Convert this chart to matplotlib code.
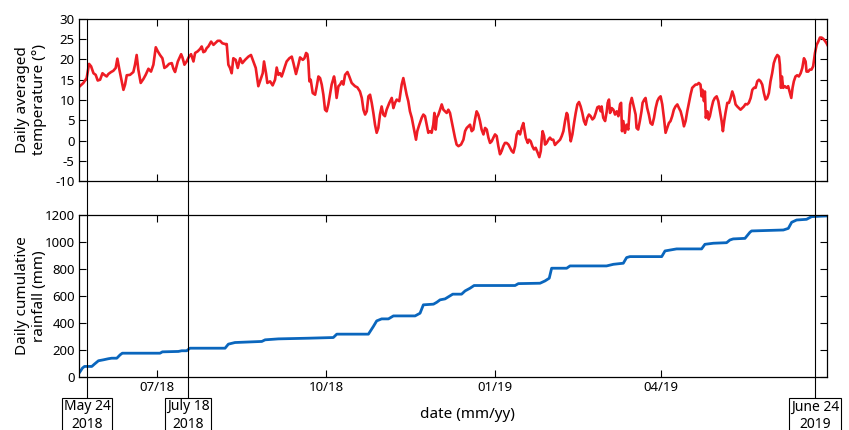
import numpy as np
import pandas as pd
import matplotlib
matplotlib.use('Agg')
import matplotlib.pyplot as plt
import matplotlib.dates as mdates
from matplotlib.lines import Line2D
from matplotlib.transforms import blended_transform_factory

plt.rcParams['font.family'] = ['Noto Sans', 'DejaVu Sans']
plt.rcParams['axes.unicode_minus'] = False

# days counted from 2018-05-20
start_date = '2018-05-20'

temp_day = [0, 1.9, 3.7, 5.0, 6.1, 7.4, 8.6, 9.7, 11.0, 12.3, 13.3, 14.6, 15.5, 17.0, 18.2, 19.5, 20.4,
            21.5, 22.8, 23.7, 24.6, 25.5, 27.3, 29.1, 30.0, 30.9, 31.8, 33.1, 34.6, 35.8, 37.3, 38.7,
            40.0, 41.3, 42.4, 43.6, 44.9, 46.0, 47.3, 48.5, 50.0, 50.9, 51.8, 53.3, 55.1, 55.8, 56.9,
            58.1, 59.4, 60.5, 61.8, 62.7, 64.1, 65.4, 66.3, 67.2, 68.1, 69.0, 69.9, 71.4, 72.7, 73.6,
            75.0, 76.3, 77.5, 79.0, 79.9, 80.8, 81.7, 82.6, 83.5, 84.8, 85.9, 87.2, 88.4, 89.9, 91.7,
            93.1, 94.4, 95.7, 97.1,
            99.5, 100.2, 101.3, 102.0, 103.5, 104.9, 106.2, 107.1, 108.0, 108.9, 109.8, 110.7, 111.6,
            112.5, 114.0, 115.3, 116.2, 117.6, 118.9, 119.8, 121.3, 122.2, 123.1, 123.8, 124.3, 124.9,
            125.6, 126.7, 128.0, 128.9, 129.8, 130.7, 131.6, 132.5, 133.4, 134.3, 135.2, 136.1, 137.0,
            138.3, 138.8, 139.7, 140.7, 141.6, 142.5, 143.4, 144.3, 145.6, 146.6, 147.9, 149.7, 151.0,
            152.4, 153.4, 154.3, 155.2, 156.1, 157.0, 157.9, 158.8, 159.7, 160.6, 161.5, 162.4, 163.3,
            164.2, 165.1, 166.0, 166.9, 168.4, 169.7, 170.6, 171.5, 172.4, 173.8, 175.1, 176.0, 176.9,
            177.8, 178.7, 179.6, 180.6, 181.5, 182.4, 182.9, 183.6, 184.7, 186.0, 186.9, 187.8, 188.7,
            189.6, 190.5, 191.4, 192.3, 192.9, 193.6, 194.2, 195.1, 196.0, 196.9, 197.8,
            198.7, 199.6, 200.5, 201.4, 202.3, 203.2, 204.1, 205.0, 206.0, 207.4, 208.7, 209.6, 210.5,
            211.4, 212.3, 213.2, 214.1, 215.0, 215.9, 216.8, 217.7, 218.6, 219.6, 220.5, 221.4, 222.3,
            223.2, 224.1, 225.0, 225.9, 226.8, 227.7, 228.6, 229.5, 230.4, 231.3, 232.2, 233.2, 234.1,
            235.0, 235.9, 236.8, 237.7, 238.6, 239.5, 240.4, 241.3, 241.9, 242.6, 243.7, 244.4, 245.3,
            246.2, 247.1, 248.0, 249.1, 250.0, 250.8, 251.3, 251.8, 252.6, 253.1, 254.0, 254.9, 255.8,
            256.7, 257.6, 258.5, 259.5, 260.4, 261.3, 262.2, 263.1, 264.0, 264.9, 265.4, 266.2, 267.1,
            268.0, 268.9, 269.8, 270.7, 271.6, 272.5, 273.4, 274.3, 275.2, 276.1, 277.0, 277.9, 278.9,
            279.8, 280.7, 281.6, 282.5, 283.4, 283.9, 284.8, 285.8, 286.7, 287.2, 287.9, 288.5, 289.4,
            290.3, 291.2, 292.1, 293.0, 293.9, 294.5, 295.0, 295.7, 296.6, 297.5, 298.4, 299.4, 300.3,
            302.4, 302.9, 303.8, 304.7, 305.6, 306.2, 307.1, 307.8, 308.7, 309.6, 310.5, 311.5, 312.4,
            313.3, 314.2, 315.1, 316.0, 316.9, 317.8, 318.7, 319.6, 320.5, 321.4, 322.3, 323.2, 324.1,
            325.1, 326.0, 326.9, 327.8, 328.7, 329.6, 330.5, 331.4, 332.3, 333.2, 334.1, 335.0, 335.9,
            336.8, 337.7, 338.3, 338.8, 339.6, 340.1, 340.6, 341.4, 342.1, 342.8, 343.7, 344.6, 345.5,
            346.5, 347.4, 348.3, 349.2, 349.9, 350.6, 351.3, 352.3, 353.2, 354.1, 355.0, 355.9, 356.8,
            357.7, 358.6, 359.5, 360.4, 361.3, 362.2, 363.1, 364.0, 365.0, 365.9, 366.8, 367.7, 368.6,
            369.5, 370.4, 371.3, 372.2, 373.1, 374.0, 374.9, 375.8, 376.7, 377.6, 378.5, 379.5, 380.4,
            380.9, 381.5, 382.0, 382.7, 383.6, 384.5, 385.4, 386.4, 387.1, 387.8, 388.5, 389.4, 390.3,
            391.2, 392.2, 393.1, 394.0, 394.9, 395.4, 396.3, 397.2, 398.1, 399.0, 400.0, 400.9, 401.8,
            402.7, 403.6, 404.5, 405.4, 406.3, 407.2]

temp_c = [13.4, 14.2, 15.4, 18.9, 18.3, 16.6, 16.2, 14.8, 15.0, 16.6, 16.2, 15.8, 16.4, 16.9, 17.2, 17.9, 20.2,
          17.5, 14.6, 12.5, 13.8, 16.1, 16.2, 16.9, 18.7, 21.1, 17.5, 14.2, 15.2, 16.2, 17.7, 17.0,
          18.7, 23.0, 22.0, 21.1, 20.3, 17.9, 18.3, 18.9, 19.1, 17.7, 16.9, 19.5, 21.3, 20.5, 18.7,
          19.5, 20.7, 21.3, 19.5, 21.6, 22.0, 22.6, 23.2, 21.8, 22.0, 22.8, 23.2, 24.4, 23.6, 24.0,
          24.6, 24.6, 24.0, 23.8, 23.8, 18.7, 17.9, 16.6, 20.3, 19.9, 17.9, 20.3, 19.1, 19.9, 20.7,
          21.1, 19.5, 17.9, 13.4,
          16.6, 19.5, 16.6, 14.2, 14.6, 13.6, 15.0, 18.0, 16.2, 16.6, 15.8, 17.0, 18.3,
          19.5, 20.3, 20.7, 19.1, 16.4, 18.7, 20.5, 19.9, 20.3, 21.6, 21.3, 19.5, 14.6,
          15.0, 11.7, 11.3, 13.4, 15.8, 15.4, 13.8, 11.3, 7.6, 7.2, 8.9, 11.3, 13.8,
          15.8, 14.6, 10.5, 13.4, 13.8, 14.6, 13.8, 16.2, 16.9, 15.8, 14.2, 13.4, 13.1,
          12.1, 10.5, 7.6, 6.4, 7.2, 10.9, 11.3, 9.3, 6.8, 3.9, 1.9, 3.1, 6.4,
          8.4, 6.4, 6.0, 7.6, 9.3, 10.5, 8.0, 9.3, 10.1, 9.7, 13.8, 15.4, 13.4,
          11.3, 9.7, 7.2, 5.6, 3.5, 1.5, 0.2, 2.3, 3.9, 5.6, 6.4, 6.0, 3.9,
          1.9, 2.3, 1.9, 3.9, 6.8, 2.7, 5.6, 6.4, 7.6, 8.9, 7.6,
          7.2, 6.8, 7.6, 6.8, 4.8, 2.7, 0.7, -1.0, -1.4, -1.0, 0.2, 2.3, 3.1,
          3.5, 3.9, 2.3, 2.7, 5.2, 7.2, 6.4, 4.8, 2.7, 1.5, 3.1, 2.7, 0.7,
          -0.6, -0.2, 0.7, 1.5, 1.1, -1.4, -3.4, -2.6, -1.4, -0.6, -0.6, -1.0, -1.8,
          -2.6, -3.0, -1.4, 1.5, 2.3, 1.5, 3.1, 4.3, 2.7, 0.7, -0.6, 0.2, -0.2,
          -1.4, -2.2, -1.8, -3.0, -4.1, -2.6, 0.2, 2.3, 1.1, -1.0, -0.6, 0.2, 0.7,
          0.2, 0.2, -1.1, -0.6, -0.2, 0.2, 1.1, 2.3, 4.8, 6.8, 6.4, 3.1, -0.2,
          1.5, 4.3, 6.8, 8.9, 9.5, 8.4, 6.8, 4.8, 3.9, 5.6, 6.4, 6.0, 5.2,
          5.6, 6.8, 8.2, 8.4, 7.2, 8.4, 5.6, 4.8, 7.2, 9.3, 10.1, 6.8, 8.0,
          7.6, 6.4, 7.2, 6.0, 8.9, 9.3, 2.3, 4.8, 1.9, 3.9, 2.7, 8.9, 10.5,
          6.4, 3.1, 2.7, 4.8, 7.2, 9.3, 10.1, 10.5, 8.0, 6.4, 4.3, 3.9, 5.6,
          8.0, 9.7, 10.5, 10.9, 8.9, 5.6, 1.9, 3.1, 4.3, 4.8, 6.0, 7.6, 8.4,
          8.9, 8.0, 7.2, 5.6, 3.5, 4.8, 7.2, 9.3, 11.3, 13.0, 13.4, 13.8, 13.8,
          14.2, 13.8, 10.9, 12.5, 9.7, 12.1, 5.6, 7.2, 5.2, 6.0, 8.0, 9.7, 10.5,
          10.9, 9.7, 7.2, 4.8, 2.3, 4.8, 6.8, 9.3, 9.3, 10.5, 12.1, 10.9, 8.9,
          8.4, 8.0, 7.6, 8.0, 8.4, 9.0, 8.9, 9.3, 10.5, 12.5, 13.0, 13.0, 14.6,
          15.0, 14.6, 13.8, 11.7, 10.1, 10.5, 11.7, 14.6, 16.6, 19.1, 20.3, 21.1, 20.7,
          18.7, 13.0, 15.8, 13.0, 13.4, 13.0, 13.4, 11.7, 10.5, 13.0, 14.6, 15.8, 16.1,
          15.8, 16.6, 17.9, 20.3, 19.5, 17.0, 17.0, 17.5, 17.5, 18.3, 21.6, 23.6, 24.4,
          25.4, 25.4, 25.1, 24.6, 24.0, 23.2]

rain_day = [0, 1.4, 2.5, 6.5, 7.9, 10.1, 12.8, 15.5, 17.3, 20.1, 21.9, 23.1, 43.6, 44.9, 53.6,
            55.4, 58.1, 59.9, 79.0, 80.8, 84.4, 99.0, 100.8, 108.0, 124.3, 137.9, 139.8, 157.0,
            159.7, 161.5, 164.2, 167.9, 170.6, 182.4, 185.1, 186.9, 192.4, 194.2, 196.0, 198.7,
            202.9, 207.7, 209.6, 212.3, 214.5, 236.8, 238.6, 250.4, 253.1, 255.4, 256.7, 264.9,
            266.7, 286.6, 290.3, 295.7, 297.5, 299.3, 316.6, 318.4, 324.7, 338.3, 340.1, 344.7,
            351.9, 353.7, 355.5, 361.9, 364.6, 365.5, 382.8, 385.5, 387.3, 390.0, 395.4, 398.2, 406.3]

rain_mm = [38, 67, 79, 79, 96, 121, 128, 136, 140, 140, 165, 177, 177, 187, 190,
           195, 195, 214, 214, 244, 256, 264, 276, 283, 288, 293, 318, 318,
           375, 416, 431, 431, 453, 453, 473, 535, 540, 554, 572, 579,
           614, 614, 638, 658, 678, 678, 692, 695, 712, 732, 806, 806,
           823, 823, 835, 843, 885, 892, 892, 934, 949, 949, 983, 991,
           995, 1015, 1023, 1027, 1072, 1082, 1089, 1101, 1146, 1163, 1168, 1188, 1193]

event_dates = ['2018-05-24', '2018-07-18', '2019-06-24']
event_labels = ['May 24\n2018', 'July 18\n2018', 'June 24\n2019']

month_ticks = ['2018-07-01', '2018-10-01', '2019-01-01', '2019-04-01']

t0 = pd.Timestamp(start_date)
temp_dates = t0 + pd.to_timedelta(temp_day, unit='D')
rain_dates = t0 + pd.to_timedelta(rain_day, unit='D')

fig = plt.figure(figsize=(8.49, 4.30), dpi=100)
ax1 = fig.add_axes([0.093, 0.579, 0.881, 0.377])
ax2 = fig.add_axes([0.093, 0.123, 0.881, 0.377])

ax1.plot(temp_dates, temp_c, color='#ee1c24', lw=1.9)
ax2.plot(rain_dates, rain_mm, color='#0a66bd', lw=2.0)

xmin = pd.Timestamp('2018-05-19 12:00')
xmax = pd.Timestamp('2019-06-30 12:00')
ticks = [pd.Timestamp(t) for t in month_ticks]
for ax in (ax1, ax2):
    ax.set_xlim(xmin, xmax)
    ax.set_xticks(ticks)
    ax.xaxis.set_major_formatter(mdates.DateFormatter('%m/%y'))
    ax.tick_params(direction='in', length=5, width=0.8, top=True, right=True,
                   labelsize=9.5, pad=3)
    for sp in ax.spines.values():
        sp.set_linewidth(0.9)

ax1.set_ylim(-10, 30)
ax1.set_yticks(np.arange(-10, 31, 5))
ax1.tick_params(labelbottom=False)
ax2.set_ylim(0, 1200)
ax2.set_yticks(np.arange(0, 1201, 200))

ax1.set_ylabel('Daily averaged\ntemperature (°)', fontsize=11)
ax2.set_ylabel('Daily cumulative\nrainfall (mm)', fontsize=11)
ax1.yaxis.set_label_coords(-0.043, 0.5)
ax2.yaxis.set_label_coords(-0.043, 0.5)

fig.text(467 / 849, 1 - 415 / 430, 'date (mm/yy)', fontsize=11, ha='center', va='center')

# event markers spanning both panels
trans = blended_transform_factory(ax2.transData, fig.transFigure)
for d, lab in zip(event_dates, event_labels):
    xd = mdates.date2num(pd.Timestamp(d))
    fig.add_artist(Line2D([xd, xd], [1 - 397 / 430, 1 - 19 / 430], transform=trans,
                          color='black', lw=0.8, zorder=5))
    ax2.text(xd, 1 - 399.5 / 430, lab, transform=trans, ha='center', va='top',
             fontsize=10, linespacing=1.2, clip_on=False, zorder=6,
             bbox=dict(boxstyle='square,pad=0.12', fc='white', ec='black', lw=0.8))

fig.savefig('out.png', dpi=100)
